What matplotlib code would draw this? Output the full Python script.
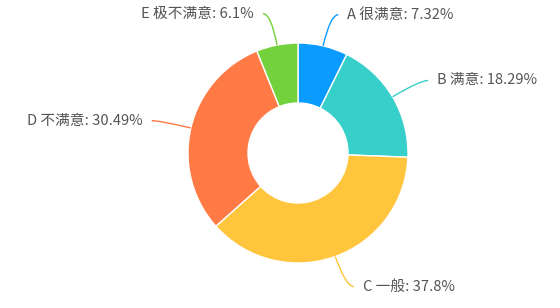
import numpy as np
import matplotlib
matplotlib.use('Agg')
import matplotlib.pyplot as plt
from matplotlib.path import Path
from matplotlib.patches import PathPatch

plt.rcParams['font.family'] = ['Noto Sans CJK SC', 'DejaVu Sans']

names = ['A 很满意', 'B 满意', 'C 一般', 'D 不满意', 'E 极不满意']
values = [7.32, 18.29, 37.8, 30.49, 6.1]
colors = ['#0a9bff', '#36cfc9', '#ffc53d', '#ff7a45', '#73d13d']

W, H = 560, 308
cx, cy = 298, H - 153
R, r_in = 110, 50

fig = plt.figure(figsize=(5.6, 3.08), dpi=100)
ax = fig.add_axes([0, 0, 1, 1])

ax.pie(values, colors=colors, startangle=90, counterclock=False,
       center=(cx, cy), radius=R, frame=True,
       wedgeprops=dict(width=R - r_in, edgecolor='white', linewidth=1))
ax.set_xlim(0, W)
ax.set_ylim(0, H)
ax.set_aspect('equal')
ax.axis('off')

# подписи с выносными линиями
total = sum(values)
start = 0
for name, v, c in zip(names, values, colors):
    mid = start + v / 2
    start += v
    ang = np.deg2rad(90 - mid / total * 360)
    d = np.array([np.cos(ang), np.sin(ang)])
    p0 = np.array([cx, cy]) + R * d
    p1 = np.array([cx, cy]) + (R + 32) * d
    side = 1 if d[0] >= 0 else -1
    p2 = p1 + np.array([8 * side, 0])
    path = Path([p0, p1, p2], [Path.MOVETO, Path.CURVE3, Path.CURVE3])
    ax.add_patch(PathPatch(path, fc='none', ec=c, lw=1))
    ax.text(p2[0] + 9 * side, p2[1], '%s: %s%%' % (name, ('%g' % v)),
            ha='left' if side > 0 else 'right', va='center',
            fontsize=10.6, color='#555555')

fig.savefig('out.png', dpi=100)
